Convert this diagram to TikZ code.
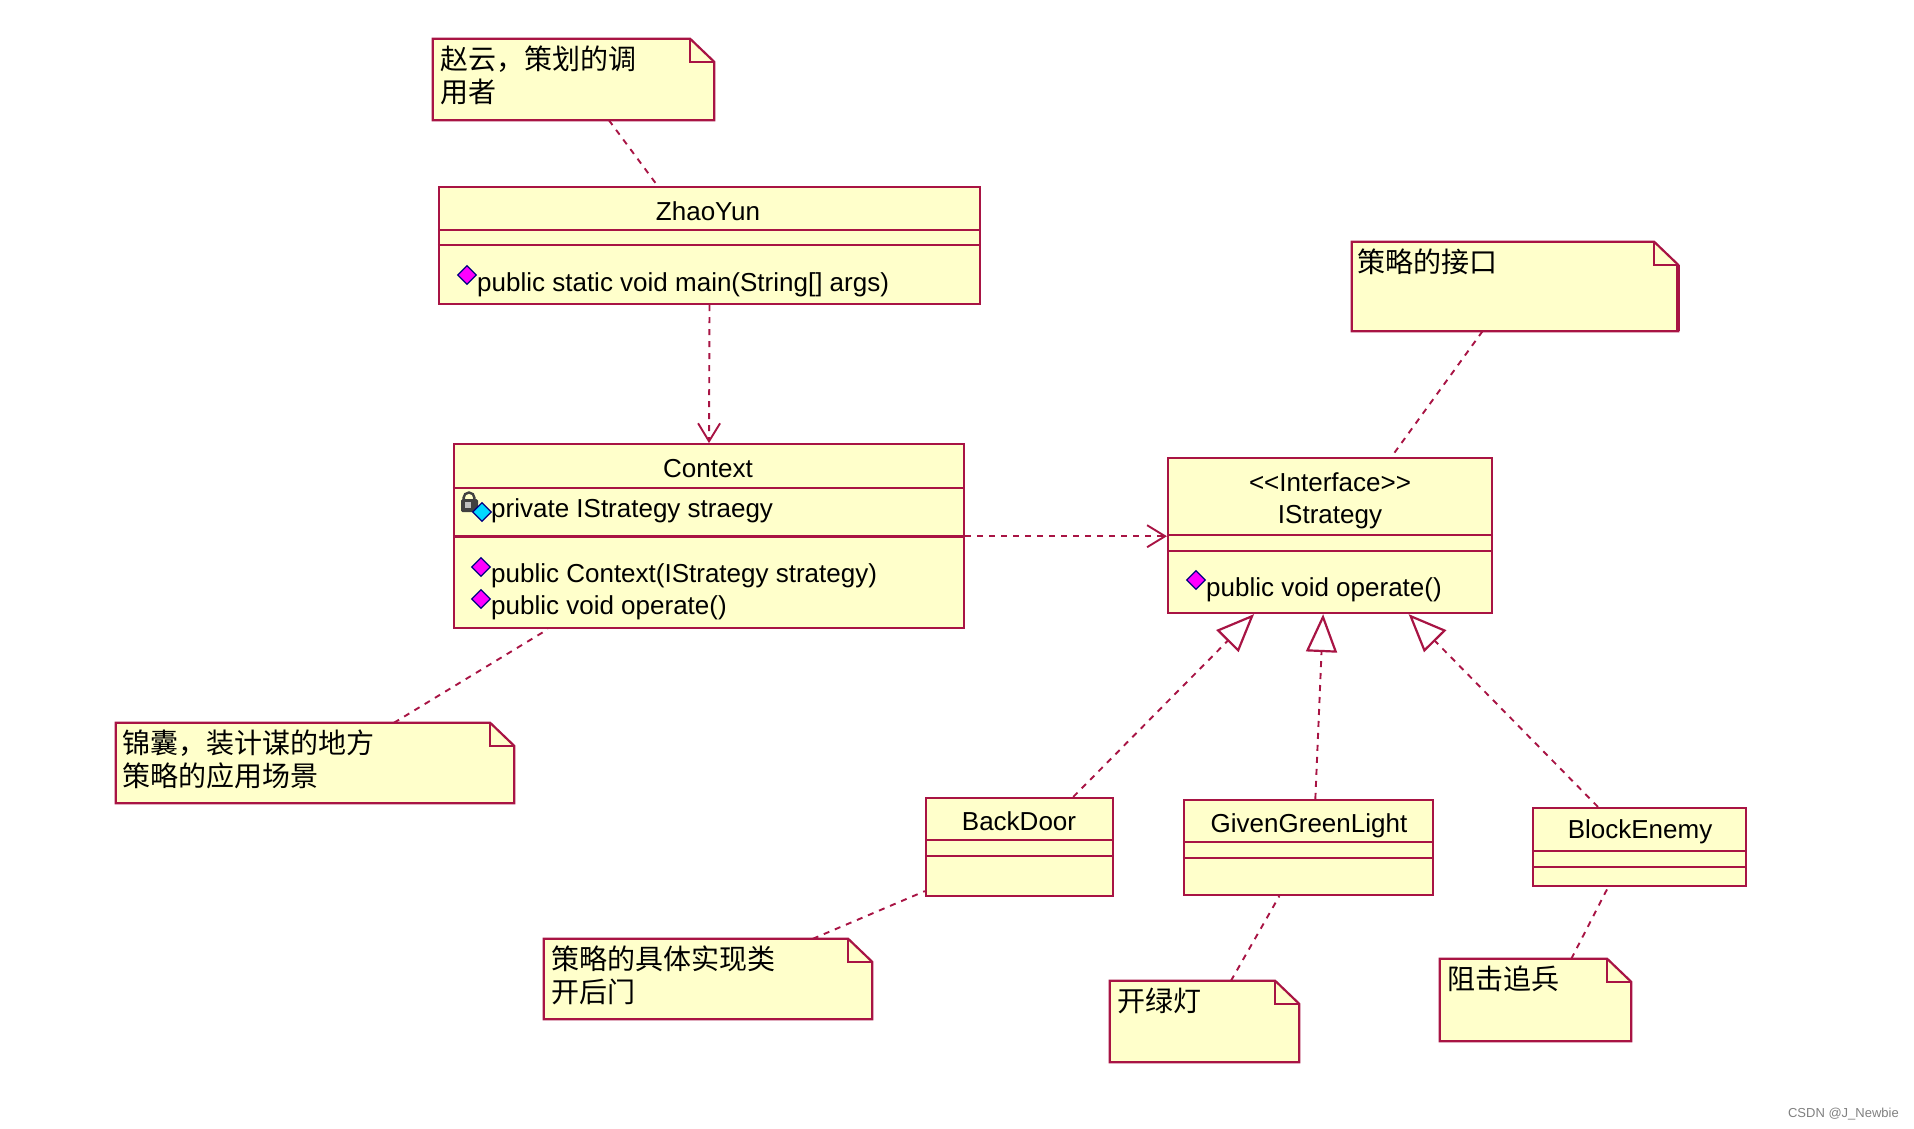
\documentclass[tikz,border=0pt]{standalone}
\usepackage{fontspec}
\setmainfont{Liberation Sans}
\newfontfamily\cjk{Noto Sans CJK SC}
\usetikzlibrary{arrows.meta,calc,shapes.geometric}
\definecolor{umlline}{HTML}{A81444}
\definecolor{umlfill}{HTML}{FFFFCB}
\definecolor{opfill}{HTML}{FF00FF}
\definecolor{attrfill}{HTML}{00D8FF}
\definecolor{iconedge}{HTML}{000080}
\newcommand{\notefold}[1]{%
    \draw[umlline,line width=2.2pt,fill=umlfill]
        (#1.north west) -- ($(#1.north east)+(-24,0)$) -- ($(#1.north east)+(0,23)$)
        -- (#1.south east) -- (#1.south west) -- cycle;
    \draw[umlline,line width=2.2pt]
        ($(#1.north east)+(-24,0)$) -- ($(#1.north east)+(-24,23)$) -- ($(#1.north east)+(0,23)$);
}
\begin{document}
\begin{tikzpicture}[
        x=1pt,
        y=-1pt,
        classbox/.style={
            rectangle,
            draw=umlline,
            fill=umlfill,
            line width=2.2pt,
            inner sep=0pt
        },
        notebox/.style={
            rectangle,
            inner sep=0pt
        },
        classname/.style={
            font=\fontsize{26}{33}\selectfont,
            align=center,
            inner sep=0pt,
            anchor=base
        },
        member/.style={
            font=\fontsize{26}{33}\selectfont,
            inner sep=0pt,
            anchor=base west
        },
        notetext/.style={
            font=\cjk\fontsize{28}{33}\selectfont,
            align=left,
            inner sep=0pt,
            anchor=north west
        },
        publicop/.style={
            diamond,
            draw=iconedge,
            fill=opfill,
            line width=1.2pt,
            minimum size=19pt,
            inner sep=0pt
        },
        privateattr/.style={
            publicop,
            fill=attrfill
        },
        compartment/.style={
            umlline,
            line width=2.2pt
        },
        notelink/.style={
            umlline,
            line width=1.9pt,
            dash pattern=on 6pt off 6pt
        },
        depend/.style={
            notelink,
            -{Straight Barb[length=18pt,width=22pt,line width=1.9pt]}
        },
        realize/.style={
            notelink,
            -{Triangle[open,length=38pt,width=31pt,line width=2.2pt,fill=white]}
        }
    ]
    \useasboundingbox (0,0) rectangle (1914,1128);

    % Notes
    \node[notebox,minimum width=281pt,minimum height=81pt] (noteZhao) at (573.5,79.5) {};
    \node[notebox,minimum width=326pt,minimum height=89pt] (noteIface) at (1515,286.5) {};
    \node[notebox,minimum width=398pt,minimum height=80pt] (noteContext) at (315,763) {};
    \node[notebox,minimum width=328pt,minimum height=80pt] (noteImpl) at (708,979) {};
    \node[notebox,minimum width=189pt,minimum height=81pt] (noteGreen) at (1204.5,1021.5) {};
    \node[notebox,minimum width=191pt,minimum height=82pt] (noteBlock) at (1535.5,1000) {};
    \notefold{noteZhao}
    \notefold{noteIface}
    \notefold{noteContext}
    \notefold{noteImpl}
    \notefold{noteGreen}
    \notefold{noteBlock}
    \draw[umlline,line width=4pt] ($(noteIface.north east)+(0,23)$) -- (noteIface.south east);

    \node[notetext] (txtZhao) at (440,46) {赵云，策划的调\\用者};
    \node[notetext] (txtIface) at (1357,249) {策略的接口};
    \node[notetext] (txtContext) at (122,730) {锦囊，装计谋的地方\\策略的应用场景};
    \node[notetext] (txtImpl) at (551,946) {策略的具体实现类\\开后门};
    \node[notetext] (txtGreen) at (1117,988) {开绿灯};
    \node[notetext] (txtBlock) at (1447,966) {阻击追兵};

    % Classes
    \node[classbox,minimum width=541pt,minimum height=117pt] (zhaoyun) at (709.5,245.5) {};
    \node[classbox,minimum width=510pt,minimum height=184pt] (context) at (709,536.2) {};
    \node[classbox,minimum width=324pt,minimum height=155pt] (istrategy) at (1330,535.5) {};
    \node[classbox,minimum width=187pt,minimum height=98pt] (backdoor) at (1019.5,847) {};
    \node[classbox,minimum width=249pt,minimum height=95pt] (greenlight) at (1308.5,847.5) {};
    \node[classbox,minimum width=213pt,minimum height=78pt] (blockenemy) at (1639.5,847) {};

    % Compartments
    \draw[compartment] (zhaoyun.west |- 0,230) -- (zhaoyun.east |- 0,230);
    \draw[compartment] (zhaoyun.west |- 0,245) -- (zhaoyun.east |- 0,245);
    \draw[compartment] (context.west |- 0,488) -- (context.east |- 0,488);
    \draw[compartment] (context.west |- 0,536.5) -- (context.east |- 0,536.5);
    \draw[compartment] (istrategy.west |- 0,535) -- (istrategy.east |- 0,535);
    \draw[compartment] (istrategy.west |- 0,551) -- (istrategy.east |- 0,551);
    \draw[compartment] (backdoor.west |- 0,840) -- (backdoor.east |- 0,840);
    \draw[compartment] (backdoor.west |- 0,856) -- (backdoor.east |- 0,856);
    \draw[compartment] (greenlight.west |- 0,842) -- (greenlight.east |- 0,842);
    \draw[compartment] (greenlight.west |- 0,858) -- (greenlight.east |- 0,858);
    \draw[compartment] (blockenemy.west |- 0,851) -- (blockenemy.east |- 0,851);
    \draw[compartment] (blockenemy.west |- 0,867) -- (blockenemy.east |- 0,867);

    % Names
    \node[classname] (nameZhao) at (708,220) {ZhaoYun};
    \node[classname] (nameContext) at (708,477) {Context};
    \node[classname] (nameStereo) at (1330,491) {<{}<Interface>{}>};
    \node[classname] (nameIface) at (1330,523) {IStrategy};
    \node[classname] (nameBack) at (1019,830) {BackDoor};
    \node[classname] (nameGreen) at (1309,832) {GivenGreenLight};
    \node[classname] (nameBlock) at (1640,838) {BlockEnemy};

    % Members
    \node[publicop] (opMain) at (467,275) {};
    \node[member] (txtMain) at (477,291) {public static void main(String[] args)};
    \draw[black!75,line width=2.4pt] (469,498) circle (5.5pt);
    \fill[black!75,rounded corners=1.5pt] (461,499) rectangle (478,512);
    \fill[black!25] (465,502) rectangle (471,508);
    \node[privateattr] (attrStrategy) at (482,512) {};
    \node[member] (txtStrategy) at (491,517) {private IStrategy straegy};
    \node[publicop] (opCtor) at (481,567) {};
    \node[member] (txtCtor) at (491,582) {public Context(IStrategy strategy)};
    \node[publicop] (opOperate) at (481,599) {};
    \node[member] (txtOperate) at (491,614) {public void operate()};
    \node[publicop] (opIface) at (1196,580) {};
    \node[member] (txtIfaceOp) at (1206,596) {public void operate()};

    % Dependencies
    \draw[depend] (zhaoyun.south) -- (context.north);
    \draw[depend] (context.east) -- (context.east -| istrategy.west);

    % Realizations
    \draw[realize] (backdoor.43.9) -- (istrategy.-134.4);
    \draw[realize] (greenlight.82.2) -- (istrategy.-95.9);
    \draw[realize] (blockenemy.136.1) -- (istrategy.-45);

    % Note links
    \draw[notelink] (noteZhao.-49.6) -- (zhaoyun.131.9);
    \draw[notelink] (noteIface.-126.6) -- (istrategy.52.3);
    \draw[notelink] (noteContext.27.8) -- (context.-150.4);
    \draw[notelink] (noteImpl.21.8) -- (backdoor.-155.3);
    \draw[notelink] (noteGreen.57.8) -- (greenlight.-121.8);
    \draw[notelink] (noteBlock.49.9) -- (blockenemy.-128);

    \node[font=\fontsize{13}{15}\selectfont,text=black!50,inner sep=0pt,anchor=base east] (mark) at (1899,1117) {CSDN @J\_Newbie};
\end{tikzpicture}
\end{document}
